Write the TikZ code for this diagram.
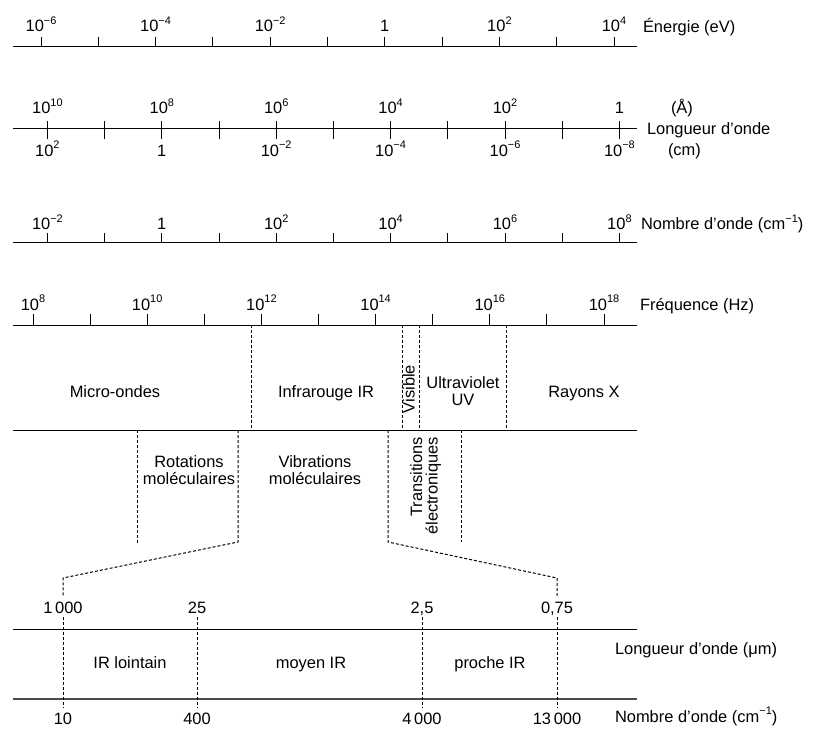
\documentclass[tikz,border=0pt]{standalone}
\usepackage{fontspec}
\setmainfont{Liberation Sans}
\newcommand\pw[1]{10\raisebox{7.5bp}{\fontsize{11}{11}\selectfont#1}}
\begin{document}
\begin{tikzpicture}[x=1bp,y=-1bp,
  every node/.style={inner sep=0pt,outer sep=0pt,font=\fontsize{16.5}{19}\selectfont},
  axisline/.style={line width=1bp,black},
  grayline/.style={line width=1.4bp,black!70},
  tickline/.style={line width=0.9bp,black},
  dashline/.style={line width=1bp,black,dash pattern=on 3bp off 2bp},
  lab/.style={anchor=base},
  rlab/.style={anchor=base west},
  vlab/.style={rotate=90,anchor=base east}]
\useasboundingbox (0,0) rectangle (815,729);

% ---------- Energie ----------
\coordinate (eL) at (13,47); \coordinate (eR) at (637,47);
\draw[axisline] (eL) -- (eR);
\foreach \i in {0,...,10} \draw[tickline] (41+57.3*\i,37) -- (41+57.3*\i,47);
\foreach \i/\t in {0/{\pw{−6}},1/{\pw{−4}},2/{\pw{−2}},3/{1},4/{\pw{2}},5/{\pw{4}}}
  \node[lab] (eT\i) at (41+114.6*\i,32) {\t};
\node[rlab] (eName) at (643,32.5) {Énergie (eV)};

% ---------- Longueur d'onde ----------
\coordinate (wL) at (13,129); \coordinate (wR) at (637,129);
\draw[axisline] (wL) -- (wR);
\foreach \i in {0,...,10} \draw[tickline] (47.4+57.2*\i,121) -- (47.4+57.2*\i,139);
\foreach \i/\t in {0/{\pw{10}},1/{\pw{8}},2/{\pw{6}},3/{\pw{4}},4/{\pw{2}},5/{1}}
  \node[lab] (wA\i) at (47.4+114.4*\i,114) {\t};
\foreach \i/\t in {0/{\pw{2}},1/{1},2/{\pw{−2}},3/{\pw{−4}},4/{\pw{−6}},5/{\pw{−8}}}
  \node[lab] (wC\i) at (47.4+114.4*\i,156.5) {\t};
\node[rlab] (wAng) at (671,114) {(Å)};
\node[rlab] (wName) at (647,135) {Longueur d’onde};
\node[rlab] (wCm) at (668,156) {(cm)};

% ---------- Nombre d'onde ----------
\coordinate (nL) at (13,242); \coordinate (nR) at (637,242);
\draw[axisline] (nL) -- (nR);
\foreach \i in {0,...,10} \draw[tickline] (47.4+57.2*\i,232.5) -- (47.4+57.2*\i,242);
\foreach \i/\t in {0/{\pw{−2}},1/{1},2/{\pw{2}},3/{\pw{4}},4/{\pw{6}},5/{\pw{8}}}
  \node[lab] (nT\i) at (47.4+114.4*\i,229.5) {\t};
\node[rlab] (nName) at (641,229.5) {Nombre d’onde (cm\raisebox{7.5bp}{\fontsize{11}{11}\selectfont −1})};

% ---------- Frequence ----------
\coordinate (fL) at (13,325); \coordinate (fR) at (637,325);
\draw[axisline] (fL) -- (fR);
\foreach \i in {0,...,10} \draw[tickline] (33+57.1*\i,314) -- (33+57.1*\i,325);
\foreach \i/\t in {0/{\pw{8}},1/{\pw{10}},2/{\pw{12}},3/{\pw{14}},4/{\pw{16}},5/{\pw{18}}}
  \node[lab] (fT\i) at (33+114.2*\i,310) {\t};
\node[rlab] (fName) at (640,310) {Fréquence (Hz)};

% ---------- Domaines ----------
\coordinate (dL) at (13,430); \coordinate (dR) at (637,430);
\draw[axisline] (dL) -- (dR);
\foreach \x in {251,402,419,506} \draw[dashline] (\x,325) -- (\x,430);
\node[lab] (mo) at (115,397) {Micro-ondes};
\node[lab] (ir) at (326,397) {Infrarouge IR};
\node[vlab] (vis) at (414.5,365) {Visible};
\node[lab] (uv1) at (463,388) {Ultraviolet};
\node[lab] (uv2) at (463,405) {UV};
\node[lab] (rx) at (584,397) {Rayons X};

% ---------- Transitions ----------
\coordinate (r1a) at (137,430); \coordinate (r1b) at (137,543);
\draw[dashline] (r1a) -- (r1b);
\coordinate (r2a) at (238,430); \coordinate (r2b) at (238,542);
\coordinate (r2c) at (63,578); \coordinate (r2d) at (63,597);
\draw[dashline] (r2a) -- (r2b) -- (r2c) -- (r2d);
\coordinate (t1a) at (388,430); \coordinate (t1b) at (388,542);
\coordinate (t1c) at (557,578); \coordinate (t1d) at (557,597);
\draw[dashline] (t1a) -- (t1b) -- (t1c) -- (t1d);
\coordinate (t2a) at (461,430); \coordinate (t2b) at (461,542);
\draw[dashline] (t2a) -- (t2b);
\node[lab] (rot1) at (189,467) {Rotations};
\node[lab] (rot2) at (189,484) {moléculaires};
\node[lab] (vib1) at (315,467) {Vibrations};
\node[lab] (vib2) at (315,484) {moléculaires};
\node[vlab] (tr1) at (422,437) {Transitions};
\node[vlab] (tr2) at (437.5,437) {électroniques};

% ---------- IR detail ----------
\coordinate (iL1) at (13,629); \coordinate (iR1) at (637,629);
\coordinate (iL2) at (13,699); \coordinate (iR2) at (637,699);
\draw[axisline] (iL1) -- (iR1);
\draw[grayline] (iL2) -- (iR2);
\foreach \x in {63,197,422,557} \draw[dashline] (\x,617) -- (\x,708);
\foreach \x/\t in {63/{1\,000},197/{25},422/{2,5},557/{0,75}}
  \node[lab] (iu\x) at (\x,613) {\t};
\foreach \x/\t in {63/{10},197/{400},422/{4\,000},557/{13\,000}}
  \node[lab] (id\x) at (\x,724) {\t};
\node[lab] (irl) at (130,668) {IR lointain};
\node[lab] (irm) at (311,668) {moyen IR};
\node[lab] (irp) at (490,668) {proche IR};
\node[rlab] (iName1) at (615,654) {Longueur d’onde (μm)};
\node[rlab] (iName2) at (615,722) {Nombre d’onde (cm\raisebox{7.5bp}{\fontsize{11}{11}\selectfont −1})};
\end{tikzpicture}
\end{document}
